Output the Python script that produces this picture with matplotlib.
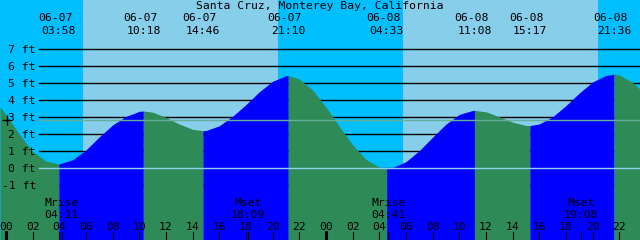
import numpy as np
import matplotlib
matplotlib.use("Agg")
import matplotlib.pyplot as plt

# tide curve (hours from 06-07 00:00, feet)
curve_hours = [-0.45, 0, 1, 2, 3, 4, 5, 6, 7, 8, 9, 10, 11, 12, 13, 14, 15,
               16, 17, 18, 19, 20, 21, 22, 23, 24, 25, 26, 27, 28, 29, 30,
               31, 32, 33, 34, 35, 36, 37, 38, 39, 40, 41, 42, 43, 44, 45,
               46, 47, 47.55]
curve_ft = [3.6, 3.15, 2.0, 1.0, 0.42, 0.26, 0.5, 1.08, 1.85, 2.55, 3.05,
            3.35, 3.30, 3.0, 2.6, 2.29, 2.22, 2.5, 3.06, 3.75, 4.5, 5.12,
            5.44, 5.25, 4.6, 3.6, 2.45, 1.38, 0.52, 0.06, 0.04, 0.39, 1.04,
            1.83, 2.6, 3.17, 3.40, 3.32, 3.03, 2.71, 2.52, 2.61, 3.03, 3.69,
            4.43, 5.08, 5.46, 5.49, 5.04, 4.65]

# highs and lows
ext_dates = ["06-07", "06-07", "06-07", "06-07", "06-08", "06-08", "06-08", "06-08"]
ext_times = ["03:58", "10:18", "14:46", "21:10", "04:33", "11:08", "15:17", "21:36"]
ext_ft = [0.25, 3.37, 2.21, 5.45, 0.0, 3.41, 2.51, 5.53]

# moon events
moon_names = ["Mrise", "Mset", "Mrise", "Mset"]
moon_days = [0, 0, 1, 1]
moon_times = ["04:11", "18:09", "04:41", "19:08"]

# sun (hours)
sunrise = [5.75, 29.8]
sunset = [20.43, 44.43]

ft_levels = [-1, 0, 1, 2, 3, 4, 5, 6, 7]
mean_ft = 2.85

DAY = "#87CEEB"
NIGHT = "#00BFFF"
FLOOD = "#0000FF"
EBB = "#2E8B57"
FONT = "DejaVu Sans Mono"
FS = 8.2


def to_hours(day, hhmm):
    hh, mm = hhmm.split(":")
    return day * 24 + int(hh) + int(mm) / 60.0


def ypix(px):
    # pixel row (from top) -> axes fraction
    return 1 - px / 240.0


t0, t1 = -0.45, 47.55
ymin, ymax = -4.22, 9.9

fig = plt.figure(figsize=(6.4, 2.4), dpi=100)
ax = fig.add_axes([0, 0, 1, 1])
ax.set_xlim(t0, t1)
ax.set_ylim(ymin, ymax)
ax.axis("off")

# sky
ax.axvspan(t0, t1, color=NIGHT, lw=0, zorder=0)
for r, s in zip(sunrise, sunset):
    ax.axvspan(r, s, color=DAY, lw=0, zorder=0)

# foot lines (hidden behind the water)
line_start = 2.5
for lv in ft_levels:
    ax.plot([line_start, t1], [lv, lv], color="black", lw=1.0, zorder=1)

# merge curve readings with extremes
ext_hours = [to_hours(0 if d == "06-07" else 1, t) for d, t in zip(ext_dates, ext_times)]
t_all = np.array(curve_hours + ext_hours)
h_all = np.array(curve_ft + ext_ft)
order = np.argsort(t_all)
t_all = t_all[order]
h_all = h_all[order]

bounds = [t0] + ext_hours + [t1]
for a, b in zip(bounds[:-1], bounds[1:]):
    m = (t_all >= a) & (t_all <= b)
    rising = h_all[m][-1] > h_all[m][0]
    ax.fill_between(t_all[m], ymin, h_all[m], color=FLOOD if rising else EBB,
                    lw=0, zorder=2)

# datum and mean lines
ax.plot([line_start, t1], [0, 0], color="#8ED2EE", lw=1.0, zorder=3)
ax.plot([line_start, t1], [mean_ft, mean_ft], color="#66AE9C", lw=1.0, zorder=3)
ax.plot([0.08], [mean_ft], marker="+", color="black", ms=7, mew=1.0, zorder=4)

# y labels
for lv in ft_levels:
    ax.text(2.25, lv - 4 / 17.0, f"{lv} ft", ha="right", va="baseline",
            family=FONT, fontsize=FS, zorder=5)

xt = ax.get_xaxis_transform()

# title
ax.text(0.5, ypix(9), "Santa Cruz, Monterey Bay, California",
        transform=ax.transAxes, ha="center", va="baseline", family=FONT, fontsize=FS)

# high / low labels
for h, d, t in zip(ext_hours, ext_dates, ext_times):
    ax.text(h - 0.25, ypix(21.3), d, transform=xt, ha="center", va="baseline",
            family=FONT, fontsize=FS)
    ax.text(h, ypix(33.7), t, transform=xt, ha="center", va="baseline",
            family=FONT, fontsize=FS)

# moon labels
for name, d, t in zip(moon_names, moon_days, moon_times):
    h = to_hours(d, t)
    ax.text(h, ypix(205.5), name, transform=xt, ha="center", va="baseline",
            family=FONT, fontsize=FS)
    ax.text(h, ypix(217.5), t, transform=xt, ha="center", va="baseline",
            family=FONT, fontsize=FS)
    ax.plot([h, h], [0, 8 / 240], transform=xt, color="black", lw=0.8,
            zorder=5, clip_on=False)

# hour ticks
for hr in range(0, 50, 2):
    ax.text(hr, ypix(230), f"{hr % 24:02d}", transform=xt, ha="center",
            va="baseline", family=FONT, fontsize=FS)
    ax.plot([hr, hr], [0, 8 / 240], transform=xt, color="black",
            lw=2.2 if hr % 24 == 0 else 0.8, zorder=5)

fig.savefig("out.png", dpi=100)
